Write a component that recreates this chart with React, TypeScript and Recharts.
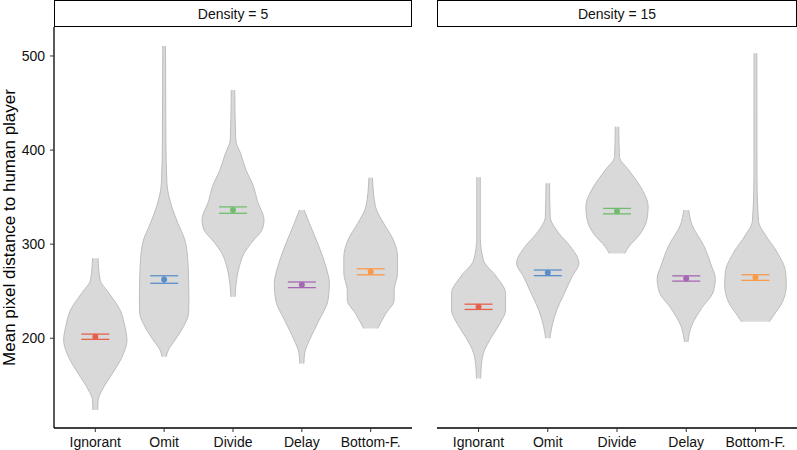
import { ComposedChart, Area, Scatter, ErrorBar, XAxis, YAxis } from 'recharts';

const methods = ['Ignorant', 'Omit', 'Divide', 'Delay', 'Bottom-F.'];
const methodColors = ['#e5604a', '#5b8ec9', '#72bc6e', '#a667b2', '#f9994a'];
const yTicks = [200, 300, 400, 500];
const xTicks = [1, 2, 3, 4, 5];

// violin outlines: [mean pixel distance, half width in category units]
const d5Ignorant = [[285.0, 0.04], [261.9, 0.07], [247.8, 0.2], [230.0, 0.36], [212.3, 0.43], [198.2, 0.46], [180.4, 0.39], [162.7, 0.25], [145.0, 0.1], [134.4, 0.04], [123.8, 0.035]];
const d5Omit = [[510.6, 0.02], [410.7, 0.025], [364.7, 0.04], [339.9, 0.11], [322.2, 0.2], [304.5, 0.3], [286.7, 0.34], [262.0, 0.355], [240.7, 0.36], [226.5, 0.355], [212.3, 0.28], [198.2, 0.16], [187.5, 0.06], [180.4, 0.03]];
const d5Divide = [[463.8, 0.025], [410.6, 0.04], [396.5, 0.11], [378.7, 0.19], [361.0, 0.3], [346.8, 0.35], [325.5, 0.45], [314.9, 0.42], [304.3, 0.3], [290.1, 0.16], [275.9, 0.09], [254.6, 0.04], [244.0, 0.03]];
const d5Delay = [[336.2, 0.035], [322.0, 0.11], [297.2, 0.25], [275.9, 0.35], [258.2, 0.4], [240.4, 0.38], [219.1, 0.25], [197.9, 0.11], [183.7, 0.04], [173.1, 0.03]];
const d5Bottom = [[370.6, 0.025], [339.7, 0.07], [322.0, 0.19], [304.3, 0.33], [286.5, 0.39], [268.9, 0.39], [251.1, 0.34], [240.5, 0.34], [226.3, 0.22], [210.3, 0.1]];

const d15Ignorant = [[371.0, 0.025], [307.9, 0.025], [283.1, 0.07], [265.3, 0.26], [247.8, 0.39], [230.0, 0.39], [215.8, 0.31], [201.6, 0.19], [183.9, 0.07], [166.2, 0.035], [157.3, 0.03]];
const d15Omit = [[364.7, 0.025], [329.2, 0.035], [311.6, 0.16], [297.3, 0.33], [279.7, 0.45], [265.4, 0.35], [247.8, 0.24], [230.0, 0.13], [212.3, 0.06], [200.0, 0.03]];
const d15Divide = [[424.8, 0.025], [392.9, 0.035], [378.7, 0.17], [361.0, 0.34], [339.7, 0.45], [325.5, 0.43], [311.4, 0.34], [297.2, 0.17], [290.1, 0.11]];
const d15Delay = [[336.2, 0.035], [320.2, 0.085], [298.9, 0.25], [277.8, 0.36], [263.5, 0.42], [249.3, 0.39], [231.6, 0.22], [213.8, 0.08], [196.1, 0.025]];
const d15Bottom = [[502.9, 0.02], [370.0, 0.022], [323.9, 0.045], [309.6, 0.145], [291.8, 0.31], [270.5, 0.435], [256.4, 0.445], [238.6, 0.39], [224.5, 0.265], [217.4, 0.2]];

// means and standard errors
const d5Means = [201.6, 262.4, 336.2, 256.8, 270.6];
const d5Se = [2.8, 4.0, 3.4, 3.0, 3.2];
const d15Means = [233.4, 269.5, 335.1, 263.5, 264.5];
const d15Se = [2.8, 3.0, 2.9, 2.8, 3.0];

const font = 'Liberation Sans, Arial, sans-serif';

function toViolin(pts: number[][], pos: number) {
  return pts.map(([y, w]) => ({ y, range: [pos - w, pos + w] }));
}

function Panel({ violins, means, se, width, showY }: { violins: number[][][]; means: number[]; se: number[]; width: number; showY: boolean }) {
  return (
    <ComposedChart layout="vertical" width={width} height={450} margin={{ top: 27, right: 0, bottom: 0, left: 0 }} style={{ fontFamily: font }}>
      <XAxis
        type="number"
        dataKey="pos"
        domain={[0.4, 5.6]}
        ticks={xTicks}
        allowDataOverflow
        tickFormatter={(v) => methods[v - 1]}
        height={22}
        tickSize={4}
        tickMargin={5}
        axisLine={{ stroke: '#000', strokeWidth: 1.3 }}
        tickLine={{ stroke: '#333' }}
        tick={{ fill: '#111', fontSize: 14 }}
      />
      <YAxis
        type="number"
        dataKey="y"
        domain={[104.6, 530.8]}
        ticks={yTicks}
        allowDataOverflow
        reversed
        hide={!showY}
        width={54}
        tickSize={4}
        tickMargin={5}
        axisLine={{ stroke: '#000', strokeWidth: 1.3 }}
        tickLine={{ stroke: '#333' }}
        tick={{ fill: '#111', fontSize: 14 }}
        label={{ value: 'Mean pixel distance to human player', angle: -90, position: 'insideLeft', offset: 9, style: { textAnchor: 'middle', fontSize: 17, fill: '#000' } }}
      />
      {violins.map((v, i) => (
        <Area
          key={'v' + i}
          data={toViolin(v, i + 1)}
          dataKey="range"
          type="monotone"
          fill="#d9d9d9"
          fillOpacity={1}
          stroke="#bdbdbd"
          strokeWidth={1}
          isAnimationActive={false}
        />
      ))}
      {means.map((m, i) => (
        <Scatter
          key={'m' + i}
          data={[{ pos: i + 1, y: m, se: se[i] }]}
          fill={methodColors[i]}
          isAnimationActive={false}
          shape={(p: any) => <circle cx={p.cx} cy={p.cy} r={3} fill={methodColors[i]} />}
        >
          <ErrorBar dataKey="se" direction="y" width={14} stroke={methodColors[i]} strokeWidth={1.3} />
        </Scatter>
      ))}
    </ComposedChart>
  );
}

const stripStyle = {
  position: 'absolute' as const,
  top: 0,
  height: 27,
  boxSizing: 'border-box' as const,
  border: '1.5px solid #000',
  background: '#fff',
  fontFamily: font,
  fontSize: 14,
  color: '#111',
  display: 'flex',
  alignItems: 'center',
  justifyContent: 'center',
};

export default function App() {
  return (
    <div style={{ position: 'absolute', left: 0, top: 0, width: 797, height: 450, background: '#fff' }}>
      <div style={{ position: 'absolute', left: 0, top: 0 }}>
        <Panel violins={[d5Ignorant, d5Omit, d5Divide, d5Delay, d5Bottom]} means={d5Means} se={d5Se} width={412} showY />
      </div>
      <div style={{ position: 'absolute', left: 437, top: 0 }}>
        <Panel violins={[d15Ignorant, d15Omit, d15Divide, d15Delay, d15Bottom]} means={d15Means} se={d15Se} width={360} showY={false} />
      </div>
      <div style={{ ...stripStyle, left: 54, width: 358 }}>Density = 5</div>
      <div style={{ ...stripStyle, left: 437, width: 360 }}>Density = 15</div>
    </div>
  );
}
